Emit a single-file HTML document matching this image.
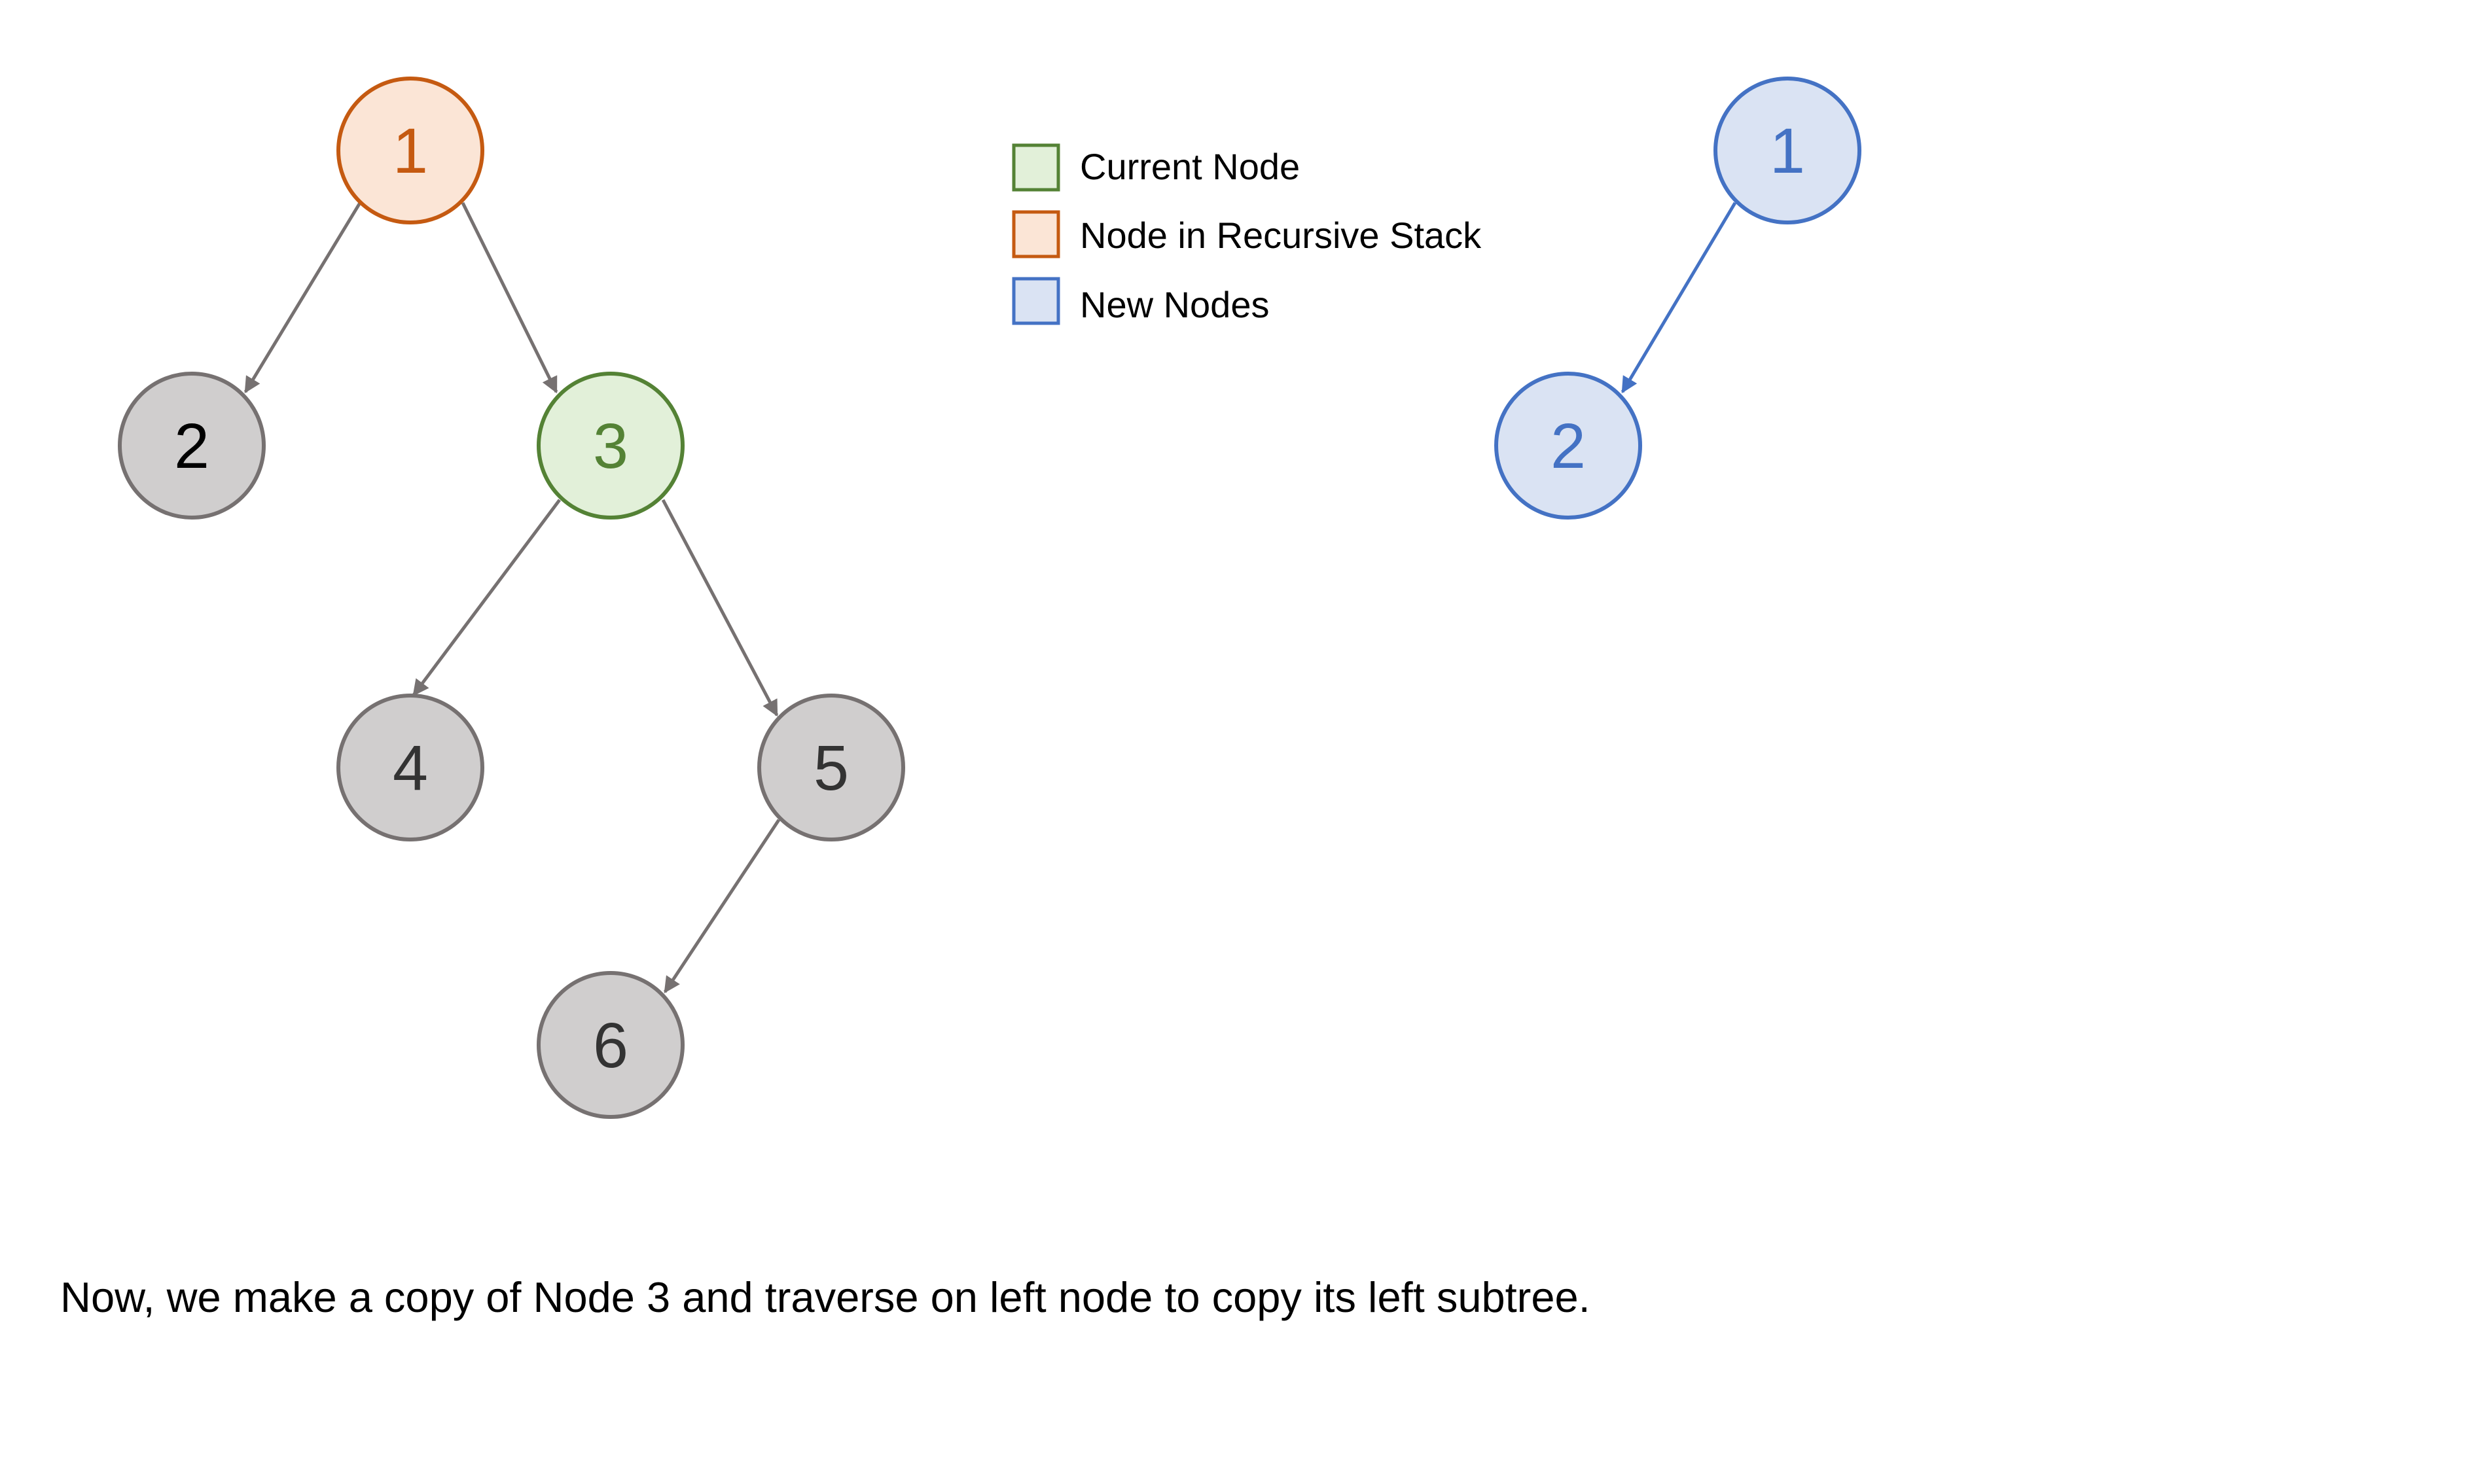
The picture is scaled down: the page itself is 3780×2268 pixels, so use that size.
<!DOCTYPE html>
<html><head><meta charset="utf-8"><style>
html,body{margin:0;padding:0;background:#fff;}
svg{display:block;}
text{font-family:"Liberation Sans",sans-serif;}
</style></head><body>
<svg width="3780" height="2268" viewBox="0 0 3780 2268" xmlns="http://www.w3.org/2000/svg">
<defs>
<marker id="ag" viewBox="0 0 10 10" refX="9" refY="5" markerWidth="5" markerHeight="5" orient="auto"><path d="M0,0 L10,5 L0,10 z" fill="#767171"/></marker>
<marker id="ab" viewBox="0 0 10 10" refX="9" refY="5" markerWidth="5" markerHeight="5" orient="auto"><path d="M0,0 L10,5 L0,10 z" fill="#4472c4"/></marker>
</defs>
<g stroke="#767171" stroke-width="5" marker-end="url(#ag)">
<line x1="550" y1="310" x2="375" y2="599"/>
<line x1="707" y1="310" x2="850" y2="599"/>
<line x1="855" y1="764" x2="632" y2="1062"/>
<line x1="1013" y1="764" x2="1187" y2="1093"/>
<line x1="1190" y1="1253" x2="1016" y2="1516"/>
</g>
<line x1="2651" y1="310" x2="2479" y2="599" stroke="#4472c4" stroke-width="5" marker-end="url(#ab)"/>
<g stroke-width="6">
<circle cx="627" cy="230" r="110" fill="#fbe5d6" stroke="#c55a11"/>
<circle cx="293" cy="681" r="110" fill="#d0cece" stroke="#767171"/>
<circle cx="933" cy="681" r="110" fill="#e2f0d9" stroke="#548235"/>
<circle cx="627" cy="1173" r="110" fill="#d0cece" stroke="#767171"/>
<circle cx="1270" cy="1173" r="110" fill="#d0cece" stroke="#767171"/>
<circle cx="933" cy="1597" r="110" fill="#d0cece" stroke="#767171"/>
<circle cx="2731" cy="230" r="110" fill="#dae3f3" stroke="#4472c4"/>
<circle cx="2396" cy="681" r="110" fill="#dae3f3" stroke="#4472c4"/>
</g>
<g font-size="97" text-anchor="middle">
<text x="627" y="264" fill="#c55a11">1</text>
<text x="293" y="715" fill="#000">2</text>
<text x="933" y="715" fill="#548235">3</text>
<text x="627" y="1207" fill="#333">4</text>
<text x="1270" y="1207" fill="#333">5</text>
<text x="933" y="1631" fill="#333">6</text>
<text x="2731" y="264" fill="#4472c4">1</text>
<text x="2396" y="715" fill="#4472c4">2</text>
</g>
<g stroke-width="5">
<rect x="1549" y="222" width="68" height="68" fill="#e2f0d9" stroke="#548235"/>
<rect x="1549" y="324" width="68" height="68" fill="#fbe5d6" stroke="#c55a11"/>
<rect x="1549" y="426" width="68" height="68" fill="#dae3f3" stroke="#4472c4"/>
</g>
<g font-size="56" fill="#000">
<text x="1650" y="274">Current Node</text>
<text x="1650" y="379">Node in Recursive Stack</text>
<text x="1650" y="485">New Nodes</text>
</g>
<text x="92" y="2005" font-size="65" fill="#000">Now, we make a copy of Node 3 and traverse on left node to copy its left subtree.</text>
</svg>
</body></html>
